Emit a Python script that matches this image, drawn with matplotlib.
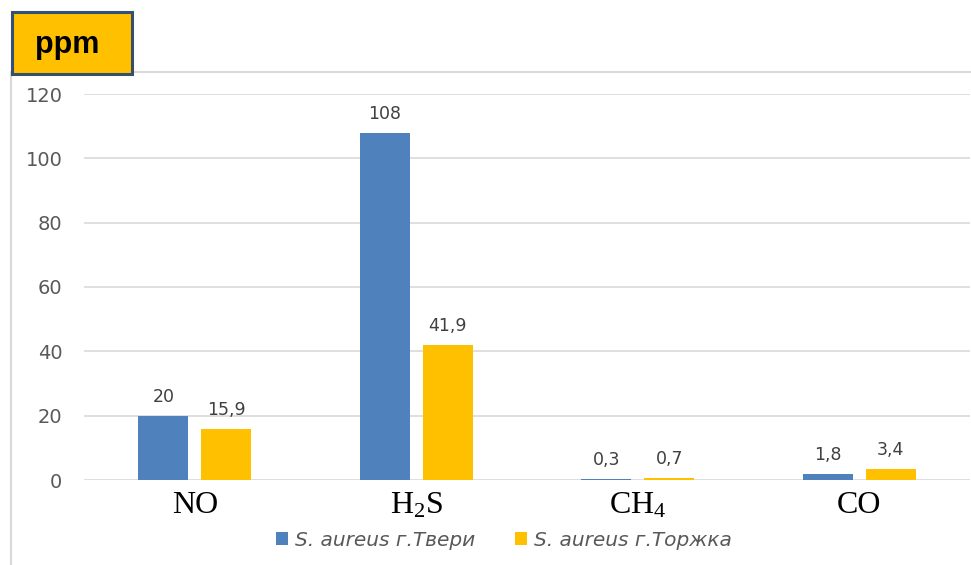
import matplotlib
matplotlib.use("Agg")
import matplotlib.pyplot as plt
from matplotlib.patches import Rectangle, Patch
from matplotlib.lines import Line2D
import numpy as np

plt.rcParams["mathtext.fontset"] = "custom"
plt.rcParams["mathtext.rm"] = "Liberation Serif"
plt.rcParams["mathtext.it"] = "Liberation Serif:italic"

# Data
gases = ["NO", "H$_2$S", "CH$_4$", "CO"]
tver = [20, 108, 0.3, 1.8]
torzhok = [15.9, 41.9, 0.7, 3.4]
series_names = ["S. aureus г.Твери", "S. aureus г.Торжка"]
y_ticks = [0, 20, 40, 60, 80, 100, 120]

BLUE = "#4F81BD"
YELLOW = "#FFC000"
GRID = "#D9D9D9"

W, H = 971, 565
fig = plt.figure(figsize=(W / 100, H / 100), dpi=100)
fig.patch.set_facecolor("white")

ax = fig.add_axes([84 / W, 1 - 480 / H, (970 - 84) / W, (480 - 94) / H])
x = np.arange(len(gases))
bw = 0.226
off = 0.142
b1 = ax.bar(x - off, tver, bw, color=BLUE, zorder=3)
b2 = ax.bar(x + off, torzhok, bw, color=YELLOW, zorder=3)

def fmt(v):
    s = f"{v:g}"
    return s.replace(".", ",")

for bars, vals in ((b1, tver), (b2, torzhok)):
    for r, v in zip(bars, vals):
        ax.annotate(fmt(v), (r.get_x() + r.get_width() / 2, v),
                    xytext=(0, 7), textcoords="offset points",
                    ha="center", va="bottom", fontsize=12.5,
                    color="#404040", family="DejaVu Sans")

ax.set_xlim(-0.5, 3.5)
ax.set_ylim(0, 120)
ax.set_yticks(y_ticks)
ax.set_yticklabels([str(t) for t in y_ticks], fontsize=14, color="#595959",
                   family="DejaVu Sans")
ax.tick_params(axis="y", length=0, pad=15.5)
ax.set_xticks(x)
ax.set_xticklabels(gases, fontsize=23, family="Liberation Serif", color="black")
ax.tick_params(axis="x", length=0, pad=8)
ax.grid(axis="y", color=GRID, linewidth=1.2, zorder=0)
for s in ax.spines.values():
    s.set_visible(False)

# Chart frame lines
fig.add_artist(Line2D([132 / W, 1.0], [1 - 72 / H, 1 - 72 / H],
                      transform=fig.transFigure, color=GRID, linewidth=1.5))
fig.add_artist(Line2D([11 / W, 11 / W], [1 - 72 / H, 0],
                      transform=fig.transFigure, color=GRID, linewidth=1.5))

# Unit badge
fig.add_artist(Rectangle((12 / W, 1 - 74 / H), 120 / W, 62 / H,
                         transform=fig.transFigure, facecolor=YELLOW,
                         edgecolor="#34506F", linewidth=2.2, zorder=5))
fig.text(67 / W, 1 - 45 / H, "ppm", ha="center", va="center", fontsize=22,
         fontweight="bold", family="Liberation Sans", color="black", zorder=6)

handles = [Patch(facecolor=BLUE), Patch(facecolor=YELLOW)]
leg = fig.legend(handles, series_names, loc="center",
                 bbox_to_anchor=(504 / W, 1 - 540 / H), ncol=2, frameon=False,
                 handlelength=0.6, handleheight=0.6, handletextpad=0.35,
                 columnspacing=2.0,
                 prop={"family": "DejaVu Sans", "style": "italic", "size": 14.5})
for t in leg.get_texts():
    t.set_color("#595959")

fig.savefig("out.png", dpi=100)
